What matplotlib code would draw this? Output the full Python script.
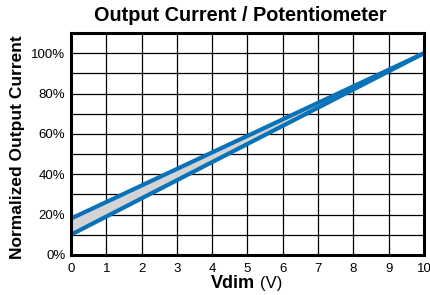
import matplotlib
matplotlib.use("Agg")
import matplotlib.pyplot as plt
import numpy as np

plt.rcParams['font.family'] = ['Liberation Sans', 'DejaVu Sans']

# Vdim (V) and normalized current (%) limits of the band
vdim = [0, 10]
upper = [18, 100]
lower = [10, 100]

xticks = list(range(0, 11))
yticks = [0, 20, 40, 60, 80, 100]
ytick_labels = ['0%', '20%', '40%', '60%', '80%', '100%']

blue = '#0a72b8'

fig = plt.figure(figsize=(4.3, 2.95), dpi=100)
ax = fig.add_axes([0.165, 0.136, 0.821, 0.752])

ax.fill_between(vdim, lower, upper, color='#d4d4d4', zorder=2)
ax.plot(vdim, upper, color=blue, lw=3, zorder=3, solid_capstyle='butt')
ax.plot(vdim, lower, color=blue, lw=3, zorder=3, solid_capstyle='butt')

ax.set_xlim(0, 10)
ax.set_ylim(0, 110)
ax.set_xticks(xticks)
ax.set_xticklabels([str(t) for t in xticks])
ax.set_yticks(yticks)
ax.set_yticklabels(ytick_labels)
ax.set_yticks(np.arange(10, 110, 20), minor=True)
ax.grid(True, which='both', color='black', lw=0.9, zorder=1)
ax.set_axisbelow(True)
ax.tick_params(which='both', length=0, labelsize=9.5)
ax.tick_params(axis='x', pad=6)
ax.tick_params(axis='y', pad=4)
for s in ax.spines.values():
    s.set_linewidth(2.2)
    s.set_zorder(4)

fig.text(0.558, 0.948, 'Output Current / Potentiometer', ha='center', va='center',
         fontsize=14.3, fontweight='bold')
fig.text(0.04, 0.5, 'Normalized Output Current', rotation=90, ha='center', va='center',
         fontsize=12.5, fontweight='bold')
fig.text(0.594, 0.04, 'Vdim', ha='right', va='center', fontsize=13, fontweight='bold')
fig.text(0.604, 0.04, '(V)', ha='left', va='center', fontsize=12)

fig.savefig('out.png', dpi=100)
